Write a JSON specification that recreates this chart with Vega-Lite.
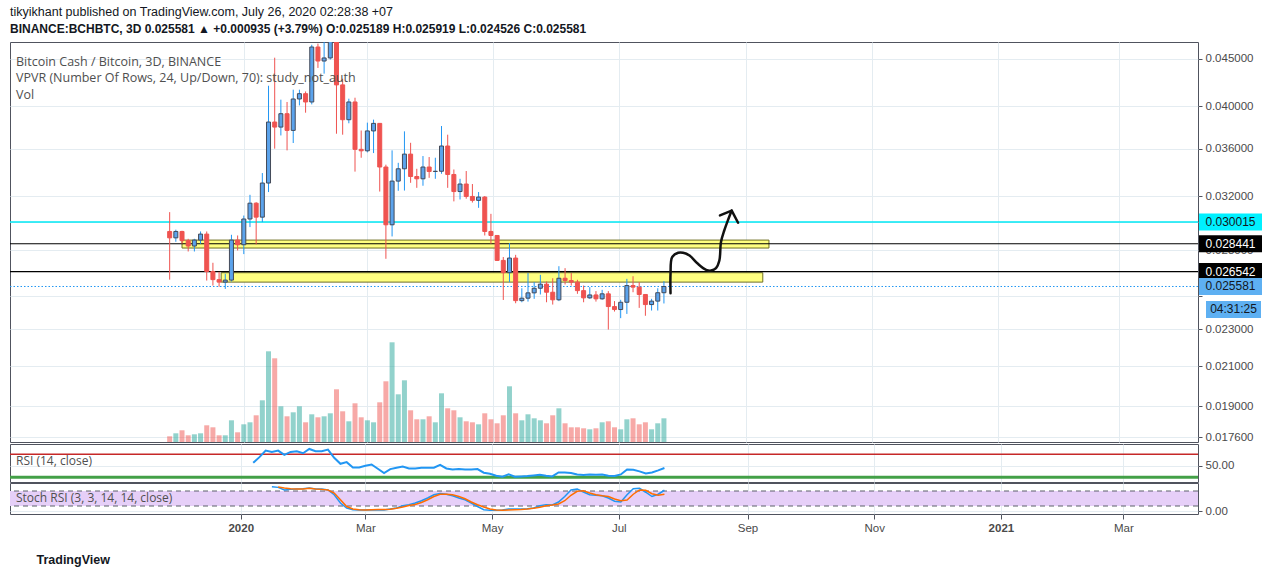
{
  "$schema": "https://vega.github.io/schema/vega-lite/v6.json",
  "background": "#ffffff",
  "padding": {"left": 8, "top": 6, "right": 0, "bottom": 0},
  "autosize": {"type": "pad"},
  "spacing": -4,
  "config": {
    "view": {"stroke": "#50535e", "strokeWidth": 1},
    "font": "Liberation Sans",
    "axis": {"gridColor": "#e4ecf1", "gridWidth": 1, "labelFont": "Liberation Sans", "labelColor": "#4a4a4a", "labelFontSize": 11.5, "tickColor": "#50535e", "domain": false}
  },
  "title": {
    "text": "tikyikhant published on TradingView.com, July 26, 2020 02:28:38 +07",
    "subtitle": "BINANCE:BCHBTC, 3D  0.025581 ▲ +0.000935 (+3.79%)  O:0.025189  H:0.025919  L:0.024526  C:0.025581",
    "anchor": "start", "frame": "group", "font": "Liberation Sans", "fontSize": 12.5, "fontWeight": "normal", "color": "#131722",
    "subtitleFont": "Liberation Sans", "subtitleFontSize": 12, "subtitleFontWeight": "bold", "subtitleColor": "#131722", "subtitlePadding": 5, "offset": 7
  },
  "datasets": {
    "candles": [
      {"date":"2019-11-26","open":0.02932,"high":0.03076,"low":0.02602,"close":0.02886,"volume":5.7},
      {"date":"2019-11-29","open":0.02886,"high":0.02945,"low":0.02858,"close":0.02932,"volume":8.7},
      {"date":"2019-12-02","open":0.02932,"high":0.02937,"low":0.02844,"close":0.02866,"volume":11.7},
      {"date":"2019-12-05","open":0.02866,"high":0.02879,"low":0.0279,"close":0.02828,"volume":6.7},
      {"date":"2019-12-08","open":0.02828,"high":0.02879,"low":0.0279,"close":0.0287,"volume":7.7},
      {"date":"2019-12-11","open":0.0287,"high":0.02932,"low":0.02844,"close":0.02913,"volume":8.7},
      {"date":"2019-12-14","open":0.02913,"high":0.02932,"low":0.02596,"close":0.02655,"volume":16.7},
      {"date":"2019-12-17","open":0.02655,"high":0.02713,"low":0.02564,"close":0.02602,"volume":14.7},
      {"date":"2019-12-20","open":0.02602,"high":0.02653,"low":0.02556,"close":0.02586,"volume":6.7},
      {"date":"2019-12-23","open":0.02586,"high":0.0264,"low":0.02543,"close":0.02599,"volume":6.7},
      {"date":"2019-12-26","open":0.02599,"high":0.02908,"low":0.0259,"close":0.0287,"volume":21.7},
      {"date":"2019-12-29","open":0.0287,"high":0.02903,"low":0.02797,"close":0.02837,"volume":9.7},
      {"date":"2020-01-01","open":0.02837,"high":0.0305,"low":0.02772,"close":0.03024,"volume":17.7},
      {"date":"2020-01-04","open":0.03024,"high":0.03211,"low":0.02964,"close":0.03145,"volume":19.7},
      {"date":"2020-01-07","open":0.03145,"high":0.03153,"low":0.02839,"close":0.03038,"volume":26.7,"rsi":55.1},
      {"date":"2020-01-10","open":0.03038,"high":0.03389,"low":0.03001,"close":0.03306,"volume":41.7,"rsi":64.9},
      {"date":"2020-01-13","open":0.03306,"high":0.04208,"low":0.03233,"close":0.03846,"volume":90.7,"rsi":76.2},
      {"date":"2020-01-16","open":0.03846,"high":0.04511,"low":0.036,"close":0.03798,"volume":83.7,"rsi":73.9,"stochK":97},
      {"date":"2020-01-19","open":0.03798,"high":0.04065,"low":0.0372,"close":0.03926,"volume":35.7,"rsi":76.2,"stochK":94.5,"stochD":96},
      {"date":"2020-01-22","open":0.03926,"high":0.04042,"low":0.03585,"close":0.03767,"volume":25.7,"rsi":68.8,"stochK":84,"stochD":92},
      {"date":"2020-01-25","open":0.03767,"high":0.04167,"low":0.03651,"close":0.04072,"volume":29.7,"rsi":73.9,"stochK":86.5,"stochD":89},
      {"date":"2020-01-28","open":0.04072,"high":0.04167,"low":0.04008,"close":0.04126,"volume":35.7,"rsi":75,"stochK":87.7,"stochD":87.7},
      {"date":"2020-01-31","open":0.04126,"high":0.04149,"low":0.03936,"close":0.04042,"volume":19.7,"rsi":71.7,"stochK":89,"stochD":87.7},
      {"date":"2020-02-03","open":0.04042,"high":0.04658,"low":0.04018,"close":0.04632,"volume":27.7,"rsi":79,"stochK":92,"stochD":90.5},
      {"date":"2020-02-06","open":0.04632,"high":0.04671,"low":0.04398,"close":0.04474,"volume":24.7,"rsi":75,"stochK":87.7,"stochD":87.7},
      {"date":"2020-02-09","open":0.04474,"high":0.0472,"low":0.04336,"close":0.04508,"volume":25.7,"rsi":75,"stochK":87.7,"stochD":86.5},
      {"date":"2020-02-12","open":0.04508,"high":0.0488,"low":0.0449,"close":0.0476,"volume":28.7,"rsi":77.9,"stochK":84,"stochD":84},
      {"date":"2020-02-15","open":0.0476,"high":0.0482,"low":0.03736,"close":0.04217,"volume":52.7,"rsi":63.7,"stochK":65,"stochD":72},
      {"date":"2020-02-18","open":0.04217,"high":0.04282,"low":0.03727,"close":0.03868,"volume":30.7,"rsi":53.4,"stochK":32,"stochD":45},
      {"date":"2020-02-21","open":0.03868,"high":0.04075,"low":0.03834,"close":0.04042,"volume":20.7,"rsi":56.3,"stochK":12,"stochD":18},
      {"date":"2020-02-24","open":0.04042,"high":0.04085,"low":0.03401,"close":0.03594,"volume":38.7,"rsi":47.1,"stochK":5,"stochD":8},
      {"date":"2020-02-27","open":0.03594,"high":0.03766,"low":0.0352,"close":0.03581,"volume":24.7,"rsi":47.1,"stochK":4,"stochD":5},
      {"date":"2020-03-01","open":0.03581,"high":0.0384,"low":0.03567,"close":0.03762,"volume":21.7,"rsi":50,"stochK":4,"stochD":4},
      {"date":"2020-03-04","open":0.03762,"high":0.03869,"low":0.03561,"close":0.03833,"volume":19.7,"rsi":52.3,"stochK":5,"stochD":5},
      {"date":"2020-03-07","open":0.03833,"high":0.03836,"low":0.03237,"close":0.0344,"volume":39.7,"rsi":44.9,"stochK":4,"stochD":6},
      {"date":"2020-03-10","open":0.0344,"high":0.0346,"low":0.0274,"close":0.02981,"volume":60.7,"rsi":37.5,"stochK":4,"stochD":6},
      {"date":"2020-03-13","open":0.02981,"high":0.03585,"low":0.02896,"close":0.03322,"volume":99.7,"rsi":44.3,"stochK":8,"stochD":7},
      {"date":"2020-03-16","open":0.03322,"high":0.03476,"low":0.03243,"close":0.03425,"volume":47.7,"rsi":46.6,"stochK":12,"stochD":11},
      {"date":"2020-03-19","open":0.03425,"high":0.03758,"low":0.03245,"close":0.03552,"volume":61.7,"rsi":48.8,"stochK":21,"stochD":16},
      {"date":"2020-03-22","open":0.03552,"high":0.03653,"low":0.03308,"close":0.0336,"volume":31.7,"rsi":45.4,"stochK":25,"stochD":22},
      {"date":"2020-03-25","open":0.0336,"high":0.03425,"low":0.03267,"close":0.03341,"volume":22.7,"rsi":45.4,"stochK":32,"stochD":26},
      {"date":"2020-03-28","open":0.03341,"high":0.03535,"low":0.03284,"close":0.0344,"volume":22.7,"rsi":46.6,"stochK":41,"stochD":34},
      {"date":"2020-03-31","open":0.0344,"high":0.03526,"low":0.03349,"close":0.03402,"volume":25.7,"rsi":46.6,"stochK":52,"stochD":45},
      {"date":"2020-04-03","open":0.03402,"high":0.0352,"low":0.03341,"close":0.03404,"volume":19.7,"rsi":46.6,"stochK":65,"stochD":58},
      {"date":"2020-04-06","open":0.03404,"high":0.03808,"low":0.03383,"close":0.03624,"volume":48.7,"rsi":51.7,"stochK":70,"stochD":67},
      {"date":"2020-04-09","open":0.03624,"high":0.03727,"low":0.03267,"close":0.03377,"volume":33.7,"rsi":45.4,"stochK":67,"stochD":67},
      {"date":"2020-04-12","open":0.03377,"high":0.03419,"low":0.03159,"close":0.03237,"volume":31.7,"rsi":43.7,"stochK":61,"stochD":65},
      {"date":"2020-04-15","open":0.03237,"high":0.03341,"low":0.03174,"close":0.03298,"volume":24.7,"rsi":44.3,"stochK":52,"stochD":58},
      {"date":"2020-04-18","open":0.03298,"high":0.03406,"low":0.0318,"close":0.03198,"volume":20.7,"rsi":43.7,"stochK":45,"stochD":49},
      {"date":"2020-04-21","open":0.03198,"high":0.03298,"low":0.0315,"close":0.03167,"volume":19.7,"rsi":43.7,"stochK":32,"stochD":36},
      {"date":"2020-04-24","open":0.03167,"high":0.03233,"low":0.03109,"close":0.03193,"volume":17.7,"rsi":44.3,"stochK":18,"stochD":25},
      {"date":"2020-04-27","open":0.03193,"high":0.03201,"low":0.02903,"close":0.02932,"volume":28.7,"rsi":38,"stochK":5,"stochD":16},
      {"date":"2020-04-30","open":0.02932,"high":0.03063,"low":0.02844,"close":0.02903,"volume":22.7,"rsi":36.3,"stochK":3,"stochD":8},
      {"date":"2020-05-03","open":0.02903,"high":0.02903,"low":0.02725,"close":0.02729,"volume":18.7,"rsi":32.9,"stochK":3,"stochD":4},
      {"date":"2020-05-06","open":0.02729,"high":0.02752,"low":0.02474,"close":0.02647,"volume":26.7,"rsi":31.2,"stochK":4,"stochD":3},
      {"date":"2020-05-09","open":0.02647,"high":0.02849,"low":0.02586,"close":0.02745,"volume":55.7,"rsi":35.1,"stochK":8,"stochD":4},
      {"date":"2020-05-12","open":0.02745,"high":0.02767,"low":0.02454,"close":0.0247,"volume":28.7,"rsi":31.2,"stochK":8,"stochD":5},
      {"date":"2020-05-15","open":0.0247,"high":0.02547,"low":0.0246,"close":0.02485,"volume":21.7,"rsi":31.7,"stochK":8,"stochD":6},
      {"date":"2020-05-18","open":0.02485,"high":0.02645,"low":0.02464,"close":0.02518,"volume":27.7,"rsi":32.3,"stochK":9,"stochD":8},
      {"date":"2020-05-21","open":0.02518,"high":0.02586,"low":0.02481,"close":0.02547,"volume":23.7,"rsi":33.4,"stochK":12,"stochD":11},
      {"date":"2020-05-24","open":0.02547,"high":0.02633,"low":0.02508,"close":0.02573,"volume":21.7,"rsi":34.6,"stochK":21,"stochD":15},
      {"date":"2020-05-27","open":0.02573,"high":0.0259,"low":0.0246,"close":0.02522,"volume":18.7,"rsi":32.9,"stochK":25,"stochD":21},
      {"date":"2020-05-30","open":0.02522,"high":0.02611,"low":0.02446,"close":0.02475,"volume":26.7,"rsi":31.7,"stochK":24,"stochD":24},
      {"date":"2020-06-02","open":0.02475,"high":0.0269,"low":0.02467,"close":0.02611,"volume":33.7,"rsi":38.5,"stochK":36,"stochD":28},
      {"date":"2020-06-05","open":0.02611,"high":0.02677,"low":0.02571,"close":0.02596,"volume":18.7,"rsi":38.5,"stochK":58,"stochD":41},
      {"date":"2020-06-08","open":0.02596,"high":0.02645,"low":0.02564,"close":0.02586,"volume":14.7,"rsi":37.5,"stochK":84,"stochD":63},
      {"date":"2020-06-11","open":0.02586,"high":0.02601,"low":0.02512,"close":0.02532,"volume":14.7,"rsi":35.1,"stochK":88,"stochD":79},
      {"date":"2020-06-14","open":0.02532,"high":0.02564,"low":0.0246,"close":0.02487,"volume":13.7,"rsi":34,"stochK":76,"stochD":81},
      {"date":"2020-06-17","open":0.02487,"high":0.02554,"low":0.02481,"close":0.02505,"volume":12.7,"rsi":35.1,"stochK":65,"stochD":72},
      {"date":"2020-06-20","open":0.02505,"high":0.02529,"low":0.02464,"close":0.02481,"volume":13.7,"rsi":34.6,"stochK":63,"stochD":65},
      {"date":"2020-06-23","open":0.02481,"high":0.02537,"low":0.02475,"close":0.02512,"volume":19.7,"rsi":35.1,"stochK":61,"stochD":61},
      {"date":"2020-06-26","open":0.02512,"high":0.02529,"low":0.02299,"close":0.02434,"volume":20.7,"rsi":32.9,"stochK":52,"stochD":58},
      {"date":"2020-06-29","open":0.02434,"high":0.02467,"low":0.02404,"close":0.02416,"volume":14.7,"rsi":32.3,"stochK":39,"stochD":48},
      {"date":"2020-07-02","open":0.02416,"high":0.02475,"low":0.02365,"close":0.0246,"volume":12.7,"rsi":35.1,"stochK":36,"stochD":41},
      {"date":"2020-07-05","open":0.0246,"high":0.02607,"low":0.0239,"close":0.02564,"volume":22.7,"rsi":43.7,"stochK":65,"stochD":44},
      {"date":"2020-07-08","open":0.02564,"high":0.02624,"low":0.02522,"close":0.02554,"volume":23.7,"rsi":43.2,"stochK":89,"stochD":67},
      {"date":"2020-07-11","open":0.02554,"high":0.02586,"low":0.02426,"close":0.02508,"volume":17.7,"rsi":40.3,"stochK":91,"stochD":84},
      {"date":"2020-07-14","open":0.02508,"high":0.02508,"low":0.02379,"close":0.02446,"volume":19.7,"rsi":36.9,"stochK":75,"stochD":83},
      {"date":"2020-07-17","open":0.02446,"high":0.02481,"low":0.0241,"close":0.02467,"volume":12.7,"rsi":38.5,"stochK":58,"stochD":69},
      {"date":"2020-07-20","open":0.02467,"high":0.02547,"low":0.0241,"close":0.025189,"volume":18.7,"rsi":42,"stochK":67,"stochD":63},
      {"date":"2020-07-23","open":0.025189,"high":0.025919,"low":0.024526,"close":0.025581,"volume":23.7,"rsi":46.1,"stochK":83,"stochD":67}
    ],
    "levels": [
      {"price": 0.030015, "kind": "cyan"},
      {"price": 0.028441, "kind": "black"},
      {"price": 0.026542, "kind": "black"},
      {"price": 0.025581, "kind": "last", "timer": "04:31:25"}
    ],
    "zones": [
      {"start": "2019-12-02", "end": "2020-09-12", "top": 0.0287, "bottom": 0.02814},
      {"start": "2019-12-21", "end": "2020-09-09", "top": 0.02647, "bottom": 0.02586}
    ],
    "arrow": [
      {"i": 1, "date": "2020-07-26T05:00:00Z", "price": 0.02516},
      {"i": 2, "date": "2020-07-26T05:00:00Z", "price": 0.0264},
      {"i": 3, "date": "2020-07-27T00:00:00Z", "price": 0.02751},
      {"i": 4, "date": "2020-07-29T22:00:00Z", "price": 0.02781},
      {"i": 5, "date": "2020-08-01T07:00:00Z", "price": 0.02781},
      {"i": 6, "date": "2020-08-04T10:00:00Z", "price": 0.02762},
      {"i": 7, "date": "2020-08-08T12:00:00Z", "price": 0.02706},
      {"i": 8, "date": "2020-08-12T12:00:00Z", "price": 0.02666},
      {"i": 9, "date": "2020-08-14T22:00:00Z", "price": 0.02661},
      {"i": 10, "date": "2020-08-17T07:00:00Z", "price": 0.02677},
      {"i": 11, "date": "2020-08-18T22:00:00Z", "price": 0.02728},
      {"i": 12, "date": "2020-08-19T17:00:00Z", "price": 0.02856},
      {"i": 13, "date": "2020-08-21T07:00:00Z", "price": 0.02939},
      {"i": 14, "date": "2020-08-23T05:00:00Z", "price": 0.0302},
      {"i": 15, "date": "2020-08-24T22:00:00Z", "price": 0.03088}
    ],
    "arrowHead": [
      {"i": 1, "date": "2020-08-19T05:00:00Z", "price": 0.03051},
      {"i": 2, "date": "2020-08-24T22:00:00Z", "price": 0.03088},
      {"i": 3, "date": "2020-08-28T00:00:00Z", "price": 0.02996}
    ],
    "rsiLevels": [
      {"level": 70, "kind": "upper"},
      {"level": 30, "kind": "lower"}
    ],
    "stochBand": [
      {"lo": 20, "hi": 80}
    ]
  },
  "vconcat": [
    {
      "width": 1188,
      "height": 400,
      "title": {
        "text": ["Bitcoin Cash / Bitcoin, 3D, BINANCE", "VPVR (Number Of Rows, 24, Up/Down, 70): study_not_auth", "Vol"],
        "anchor": "start", "orient": "top", "frame": "group", "offset": -59, "dx": 6,
        "font": "Open Sans", "fontSize": 12.5, "fontWeight": "normal", "color": "#4f4f4f", "lineHeight": 16.5
      },
      "layer": [
        {
          "data": {"name": "candles"},
          "mark": {"type": "bar", "width": 5, "opacity": 0.5},
          "encoding": {
            "x": {"field": "date", "type": "temporal", "title": null,
              "scale": {"type": "utc", "domain": [{"year":2019,"month":9,"date":11,"hours":21,"minutes":36,"utc":true},{"year":2021,"month":4,"date":5,"hours":21,"minutes":36,"utc":true}]},
              "axis": {"values": [{"year":2020,"month":1,"date":1,"utc":true},{"year":2020,"month":3,"date":1,"utc":true},{"year":2020,"month":5,"date":1,"utc":true},{"year":2020,"month":7,"date":1,"utc":true},{"year":2020,"month":9,"date":1,"utc":true},{"year":2020,"month":11,"date":1,"utc":true},{"year":2021,"month":1,"date":1,"utc":true},{"year":2021,"month":3,"date":1,"utc":true}],
                "labels": false, "ticks": false, "domain": false, "grid": true, "title": null, "minExtent": 0, "maxExtent": 0}},
            "y": {"field": "volume", "type": "quantitative", "scale": {"domain": [0, 400], "nice": false}, "axis": null},
            "color": {"condition": {"test": "datum.close >= datum.open", "value": "#26a69a"}, "value": "#ef5350"}
          }
        },
        {
          "layer": [
            {
              "data": {"name": "zones"},
              "mark": {"type": "rect", "fill": "#ffff80", "stroke": "#6e6e22", "strokeWidth": 1},
              "encoding": {
                "x": {"field": "start", "type": "temporal", "title": null, "scale": {"type": "utc", "domain": [{"year":2019,"month":9,"date":11,"hours":21,"minutes":36,"utc":true},{"year":2021,"month":4,"date":5,"hours":21,"minutes":36,"utc":true}]}},
                "x2": {"field": "end"},
                "y": {"field": "top", "type": "quantitative",
                  "scale": {"type": "log", "domain": [0.017397, 0.0469], "nice": false, "zero": false},
                  "axis": {"orient": "right", "values": [0.045, 0.04, 0.036, 0.032, 0.03, 0.028, 0.025, 0.023, 0.021, 0.019, 0.0176], "format": ".6f",
                    "labelExpr": "datum.value == 0.025 ? '' : datum.label",
                    "grid": true, "tickSize": 4, "labelPadding": 3, "title": null, "labelOverlap": false, "labelBound": false, "labelFlush": false}},
                "y2": {"field": "bottom"}
              }
            },
            {
              "data": {"name": "levels"},
              "transform": [{"filter": "datum.kind != 'last'"}],
              "mark": {"type": "rule"},
              "encoding": {
                "y": {"field": "price", "type": "quantitative", "title": null, "scale": {"type": "log", "domain": [0.017397, 0.0469], "nice": false, "zero": false}},
                "color": {"condition": {"test": "datum.kind == 'cyan'", "value": "#00e8f4"}, "value": "#000000"},
                "strokeWidth": {"condition": {"test": "datum.kind == 'cyan'", "value": 1.5}, "value": 1.2}
              }
            },
            {
              "data": {"name": "levels"},
              "transform": [{"filter": "datum.kind == 'last'"}],
              "mark": {"type": "rule", "color": "#2196f3", "strokeWidth": 1, "strokeDash": [1.5, 2]},
              "encoding": {
                "y": {"field": "price", "type": "quantitative", "title": null, "scale": {"type": "log", "domain": [0.017397, 0.0469], "nice": false, "zero": false}}
              }
            },
            {
              "data": {"name": "candles"},
              "mark": {"type": "rule", "strokeWidth": 1, "clip": true},
              "encoding": {
                "x": {"field": "date", "type": "temporal", "title": null, "scale": {"type": "utc", "domain": [{"year":2019,"month":9,"date":11,"hours":21,"minutes":36,"utc":true},{"year":2021,"month":4,"date":5,"hours":21,"minutes":36,"utc":true}]}},
                "y": {"field": "low", "type": "quantitative", "title": null, "scale": {"type": "log", "domain": [0.017397, 0.0469], "nice": false, "zero": false}},
                "y2": {"field": "high"},
                "color": {"condition": {"test": "datum.close >= datum.open", "value": "#2196f3"}, "value": "#ef5350"}
              }
            },
            {
              "data": {"name": "candles"},
              "mark": {"type": "bar", "width": 4, "strokeWidth": 1, "clip": true},
              "encoding": {
                "x": {"field": "date", "type": "temporal", "title": null, "scale": {"type": "utc", "domain": [{"year":2019,"month":9,"date":11,"hours":21,"minutes":36,"utc":true},{"year":2021,"month":4,"date":5,"hours":21,"minutes":36,"utc":true}]}},
                "y": {"field": "open", "type": "quantitative", "title": null, "scale": {"type": "log", "domain": [0.017397, 0.0469], "nice": false, "zero": false}},
                "y2": {"field": "close"},
                "fill": {"condition": {"test": "datum.close >= datum.open", "value": "#5ba3ec"}, "value": "#ef5350"},
                "stroke": {"condition": {"test": "datum.close >= datum.open", "value": "#434a59"}, "value": "#ef5350"}
              }
            },
            {
              "data": {"name": "arrow"},
              "mark": {"type": "line", "color": "#111111", "strokeWidth": 2.5, "interpolate": "catmull-rom", "strokeCap": "round"},
              "encoding": {
                "x": {"field": "date", "type": "temporal", "title": null, "scale": {"type": "utc", "domain": [{"year":2019,"month":9,"date":11,"hours":21,"minutes":36,"utc":true},{"year":2021,"month":4,"date":5,"hours":21,"minutes":36,"utc":true}]}},
                "y": {"field": "price", "type": "quantitative", "title": null, "scale": {"type": "log", "domain": [0.017397, 0.0469], "nice": false, "zero": false}},
                "order": {"field": "i"}
              }
            },
            {
              "data": {"name": "arrowHead"},
              "mark": {"type": "line", "color": "#111111", "strokeWidth": 2.5, "strokeCap": "round", "strokeJoin": "round"},
              "encoding": {
                "x": {"field": "date", "type": "temporal", "title": null, "scale": {"type": "utc", "domain": [{"year":2019,"month":9,"date":11,"hours":21,"minutes":36,"utc":true},{"year":2021,"month":4,"date":5,"hours":21,"minutes":36,"utc":true}]}},
                "y": {"field": "price", "type": "quantitative", "title": null, "scale": {"type": "log", "domain": [0.017397, 0.0469], "nice": false, "zero": false}},
                "order": {"field": "i"}
              }
            },
            {
              "data": {"name": "levels"},
              "mark": {"type": "point", "shape": "M-1,-0.27L1,-0.27L1,0.27L-1,0.27Z", "filled": true, "size": 3969, "opacity": 1, "strokeWidth": 0},
              "encoding": {
                "x": {"value": 1220.5},
                "y": {"field": "price", "type": "quantitative", "title": null, "scale": {"type": "log", "domain": [0.017397, 0.0469], "nice": false, "zero": false}},
                "fill": {"condition": [{"test": "datum.kind == 'cyan'", "value": "#00f0ff"}, {"test": "datum.kind == 'black'", "value": "#000000"}], "value": "#5eb0f2"}
              }
            },
            {
              "data": {"name": "levels"},
              "transform": [{"filter": "datum.kind == 'last'"}],
              "mark": {"type": "point", "shape": "M-1,-0.31L1,-0.31L1,0.31L-1,0.31Z", "filled": true, "size": 3025, "opacity": 1, "strokeWidth": 0, "yOffset": 23, "color": "#5eb0f2"},
              "encoding": {
                "x": {"value": 1223.5},
                "y": {"field": "price", "type": "quantitative", "title": null, "scale": {"type": "log", "domain": [0.017397, 0.0469], "nice": false, "zero": false}}
              }
            },
            {
              "data": {"name": "levels"},
              "mark": {"type": "text", "font": "Liberation Sans", "fontSize": 12, "align": "center", "baseline": "middle"},
              "encoding": {
                "x": {"value": 1220.5},
                "y": {"field": "price", "type": "quantitative", "title": null, "scale": {"type": "log", "domain": [0.017397, 0.0469], "nice": false, "zero": false}},
                "text": {"field": "price", "format": ".6f"},
                "color": {"condition": {"test": "datum.kind == 'black'", "value": "#ffffff"}, "value": "#131722"}
              }
            },
            {
              "data": {"name": "levels"},
              "transform": [{"filter": "datum.kind == 'last'"}],
              "mark": {"type": "text", "font": "Liberation Sans", "fontSize": 12, "align": "center", "baseline": "middle", "yOffset": 23, "color": "#131722"},
              "encoding": {
                "x": {"value": 1223.5},
                "y": {"field": "price", "type": "quantitative", "title": null, "scale": {"type": "log", "domain": [0.017397, 0.0469], "nice": false, "zero": false}},
                "text": {"field": "timer"}
              }
            }
          ]
        }
      ],
      "resolve": {"scale": {"y": "independent"}}
    },
    {
      "width": 1188,
      "height": 38,
      "title": {"text": "RSI (14, close)", "anchor": "start", "orient": "top", "frame": "group", "offset": -24, "dx": 6, "font": "Open Sans", "fontSize": 12, "fontWeight": "normal", "color": "#4f4f4f"},
      "layer": [
        {
          "data": {"name": "rsiLevels"},
          "mark": {"type": "rule"},
          "encoding": {
            "y": {"field": "level", "type": "quantitative", "scale": {"domain": [22, 87.6], "nice": false, "zero": false},
              "axis": {"orient": "right", "values": [50], "format": ".2f", "grid": true, "tickSize": 4, "labelPadding": 3, "title": null}},
            "color": {"condition": {"test": "datum.kind == 'upper'", "value": "#c62828"}, "value": "#43a047"},
            "strokeWidth": {"condition": {"test": "datum.kind == 'upper'", "value": 1.5}, "value": 3}
          }
        },
        {
          "data": {"name": "candles"},
          "mark": {"type": "line", "color": "#2196f3", "strokeWidth": 2},
          "encoding": {
            "x": {"field": "date", "type": "temporal", "title": null,
              "scale": {"type": "utc", "domain": [{"year":2019,"month":9,"date":11,"hours":21,"minutes":36,"utc":true},{"year":2021,"month":4,"date":5,"hours":21,"minutes":36,"utc":true}]},
              "axis": {"values": [{"year":2020,"month":1,"date":1,"utc":true},{"year":2020,"month":3,"date":1,"utc":true},{"year":2020,"month":5,"date":1,"utc":true},{"year":2020,"month":7,"date":1,"utc":true},{"year":2020,"month":9,"date":1,"utc":true},{"year":2020,"month":11,"date":1,"utc":true},{"year":2021,"month":1,"date":1,"utc":true},{"year":2021,"month":3,"date":1,"utc":true}],
                "labels": false, "ticks": false, "domain": false, "grid": true, "title": null, "minExtent": 0, "maxExtent": 0}},
            "y": {"field": "rsi", "type": "quantitative", "title": null, "scale": {"domain": [22, 87.6], "nice": false, "zero": false}}
          }
        }
      ]
    },
    {
      "width": 1188,
      "height": 31,
      "title": {"text": "Stoch RSI (3, 3, 14, 14, close)", "anchor": "start", "orient": "top", "frame": "group", "offset": -22, "dx": 6, "font": "Open Sans", "fontSize": 12, "fontWeight": "normal", "color": "#4f4f4f"},
      "layer": [
        {
          "data": {"name": "stochBand"},
          "mark": {"type": "rect", "color": "#e6cff8", "opacity": 1},
          "encoding": {
            "y": {"field": "lo", "type": "quantitative", "scale": {"domain": [-12, 112], "nice": false, "zero": false},
              "axis": {"orient": "right", "values": [0], "format": ".2f", "grid": true, "tickSize": 4, "labelPadding": 3, "title": null}},
            "y2": {"field": "hi"}
          }
        },
        {
          "data": {"name": "stochBand"},
          "mark": {"type": "rule", "color": "#5d606b", "strokeWidth": 1, "strokeDash": [5, 4]},
          "encoding": {
            "y": {"field": "hi", "type": "quantitative", "title": null, "scale": {"domain": [-12, 112], "nice": false, "zero": false}}
          }
        },
        {
          "data": {"name": "stochBand"},
          "mark": {"type": "rule", "color": "#5d606b", "strokeWidth": 1, "strokeDash": [5, 4]},
          "encoding": {
            "y": {"field": "lo", "type": "quantitative", "title": null, "scale": {"domain": [-12, 112], "nice": false, "zero": false}}
          }
        },
        {
          "data": {"name": "candles"},
          "mark": {"type": "line", "color": "#2196f3", "strokeWidth": 1.5},
          "encoding": {
            "x": {"field": "date", "type": "temporal",
              "scale": {"type": "utc", "domain": [{"year":2019,"month":9,"date":11,"hours":21,"minutes":36,"utc":true},{"year":2021,"month":4,"date":5,"hours":21,"minutes":36,"utc":true}]},
              "axis": {"values": [{"year":2020,"month":1,"date":1,"utc":true},{"year":2020,"month":3,"date":1,"utc":true},{"year":2020,"month":5,"date":1,"utc":true},{"year":2020,"month":7,"date":1,"utc":true},{"year":2020,"month":9,"date":1,"utc":true},{"year":2020,"month":11,"date":1,"utc":true},{"year":2021,"month":1,"date":1,"utc":true},{"year":2021,"month":3,"date":1,"utc":true}],
                "labelExpr": "utcFormat(datum.value, '%m') == '01' ? utcFormat(datum.value, '%Y') : utcFormat(datum.value, '%b')",
                "labelFontWeight": {"condition": {"test": "utcmonth(datum.value) == 0", "value": "bold"}, "value": "normal"},
                "labelColor": "#4a4a4a", "labelFontSize": 11.5, "labelPadding": 3, "labelFlush": false, "labelOverlap": false,
                "ticks": true, "tickSize": 5, "domain": false, "grid": true,
                "title": "TradingView", "titleAnchor": "start", "titleAlign": "left", "titleX": 26, "titlePadding": 20,
                "titleFont": "Liberation Sans", "titleFontSize": 12.5, "titleFontWeight": "bold", "titleColor": "#131722"}},
            "y": {"field": "stochK", "type": "quantitative", "title": null, "scale": {"domain": [-12, 112], "nice": false, "zero": false}}
          }
        },
        {
          "data": {"name": "candles"},
          "mark": {"type": "line", "color": "#ff6d00", "strokeWidth": 1.5},
          "encoding": {
            "x": {"field": "date", "type": "temporal", "scale": {"type": "utc", "domain": [{"year":2019,"month":9,"date":11,"hours":21,"minutes":36,"utc":true},{"year":2021,"month":4,"date":5,"hours":21,"minutes":36,"utc":true}]}},
            "y": {"field": "stochD", "type": "quantitative", "title": null, "scale": {"domain": [-12, 112], "nice": false, "zero": false}}
          }
        }
      ]
    }
  ]
}
